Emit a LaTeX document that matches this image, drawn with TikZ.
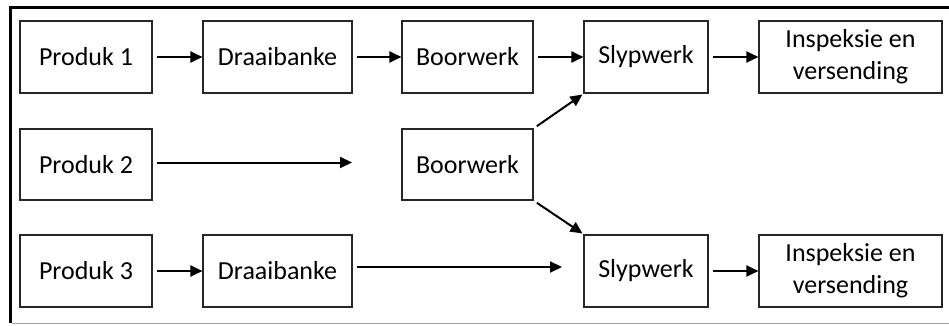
\documentclass[tikz,border=0pt]{standalone}
\usepackage{fontspec}
\setmainfont{Carlito}
\usetikzlibrary{arrows.meta}
\begin{document}
\begin{tikzpicture}[x=1pt,y=1pt,
  box/.style={draw=black!85, line width=1.1pt, rectangle, inner sep=0pt, align=center,
    font=\fontsize{26}{32}\selectfont, minimum height=72pt},
  flow/.style={line width=2pt, -{Triangle[length=12pt,width=11pt]}, shorten <=4pt}]
\useasboundingbox (0,0) rectangle (949,325);
% frame
\draw[line width=3pt, black] (10,318) -- (949,318);
\draw[line width=3pt, black] (10,319.5) -- (10,2);
\draw[line width=1pt, black!35] (11.5,2) -- (949,2);
% row 1
\node[box, minimum width=132pt] (p1) at (86,268) {Produk 1};
\node[box, minimum width=149pt] (d1) at (277.5,268) {Draaibanke};
\node[box, minimum width=131pt] (b1) at (467.5,268) {Boorwerk};
\node[box, minimum width=124pt] (s1) at (646,268) {Slypwerk};
\node[box, minimum width=183pt] (i1) at (850.5,268) {Inspeksie en\\versending};
% row 2
\node[box, minimum width=132pt, minimum height=71pt] (p2) at (86,160.5) {Produk 2};
\node[box, minimum width=131pt, minimum height=71pt] (b2) at (467.5,160.5) {Boorwerk};
\coordinate (e2) at (352,162.5);
% row 3
\node[box, minimum width=132pt] (p3) at (86,54) {Produk 3};
\node[box, minimum width=149pt] (d3) at (277.5,54) {Draaibanke};
\node[box, minimum width=124pt] (s3) at (646,54) {Slypwerk};
\node[box, minimum width=183pt] (i3) at (850.5,54) {Inspeksie en\\versending};
\coordinate (e3) at (562,58);
% arrows
\draw[flow] (p1.east) -- (d1.west);
\draw[flow] (d1.east) -- (b1.west);
\draw[flow] (b1.east) -- (s1.west);
\draw[flow] (s1.east) -- (i1.west);
\draw[flow] (p2.east |- e2) -- (e2);
\draw[flow] (b2.north east) -- ([xshift=-1pt,yshift=-1pt]s1.south west);
\draw[flow] (b2.south east) -- ([xshift=-1pt,yshift=1pt]s3.north west);
\draw[flow] (p3.east) -- (d3.west);
\draw[flow] (d3.east |- e3) -- (e3);
\draw[flow] (s3.east) -- (i3.west);
\end{tikzpicture}
\end{document}
